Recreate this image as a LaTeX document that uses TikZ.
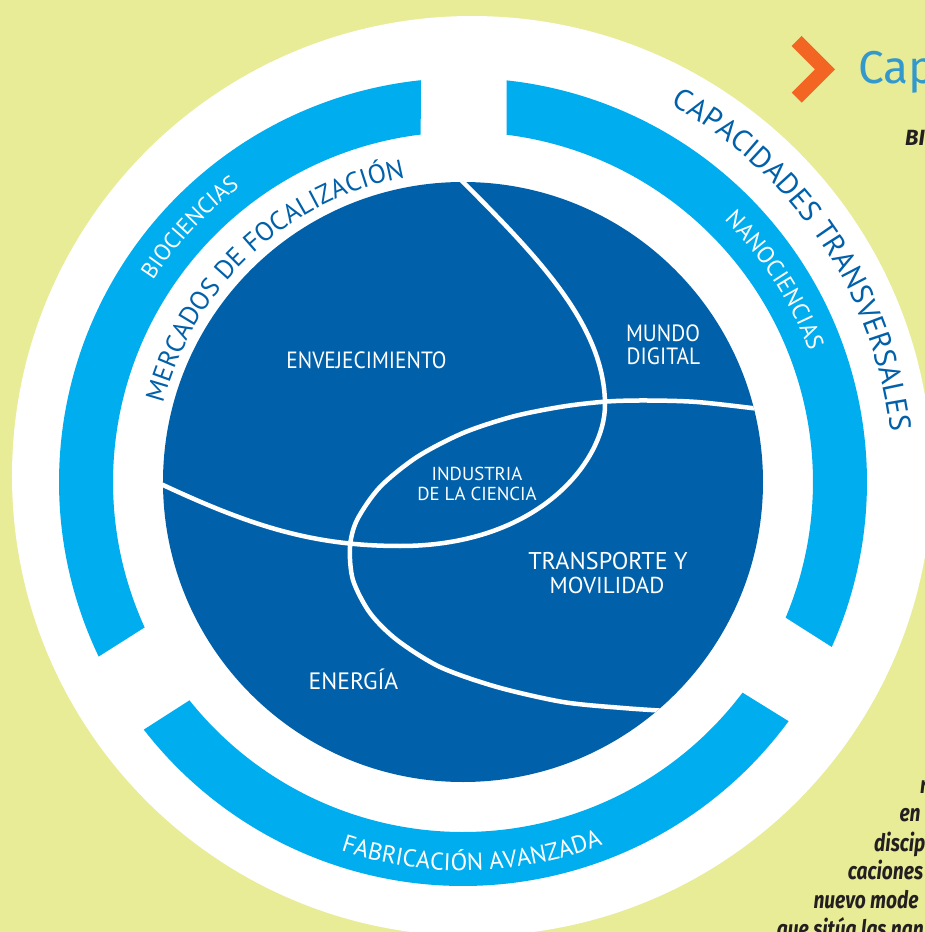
\documentclass[tikz,border=0pt]{standalone}
\usepackage{fontspec}
\usetikzlibrary{decorations.text}
\newfontfamily\lblfont[FakeStretch=0.91]{PT Sans}
\newfontfamily\arcfont{PT Sans}
\newfontfamily\fragfont[FakeStretch=0.8]{Fira Sans}
\newfontfamily\capfont{Fira Sans}
\definecolor{bgyellow}{HTML}{E8EC96}
\definecolor{ringblue}{HTML}{00AEEF}
\definecolor{diskblue}{HTML}{0061AA}
\definecolor{chevorange}{HTML}{F26522}
\definecolor{titleblue}{HTML}{3399CC}
\definecolor{fragtext}{HTML}{231F20}
\begin{document}
\begin{tikzpicture}[x=1pt,y=1pt,
  lbl/.style={text=white, font=\lblfont\fontsize{23.5}{26}\selectfont, inner sep=0pt, anchor=base},
  frag/.style={text=fragtext, font=\fragfont\bfseries\itshape\fontsize{24}{28}\selectfont, inner sep=0pt, anchor=base west},
  sep/.style={draw=white, line width=4.5pt},
  ringseg/.style={fill=ringblue}
]
\useasboundingbox (-463,-450) rectangle (462,482);
\clip (-463,-450) rectangle (462,482);
\fill[bgyellow] (-463,-450) rectangle (462,482);
% white disk
\fill[white] (9,6) circle[radius=460];
% ring segments
\fill[ringseg] (95.97:404) arc[start angle=95.97, end angle=205.6, radius=404]
  -- (204.55:350) arc[start angle=204.55, end angle=96.95, radius=350] -- cycle;
\fill[ringseg] (-24.1:404) arc[start angle=-24.1, end angle=83.8, radius=404]
  -- (82.85:350) arc[start angle=82.85, end angle=-22.8, radius=350] -- cycle;
\fill[ringseg] (217.8:404) arc[start angle=217.8, end angle=323.7, radius=404]
  -- (323.0:350) arc[start angle=323.0, end angle=218.6, radius=350] -- cycle;
% dark disk
\fill[diskblue] (0,0) circle[radius=300];
\begin{scope}
  \clip (0,0) circle[radius=300];
  \begin{scope}[shift={(-463,482)}, yscale=-1]
    \draw[sep] (453,172) -- (463,182) .. controls (540,259) and (605,327) .. (605,405)
      .. controls (605,460) and (540,546) .. (400,546)
      .. controls (313,546) and (251,526) .. (163,485) -- (150,479);
    \draw[sep] plot[smooth] coordinates {(775,411) (760,409) (697,402) (647,400.5) (607,401.5) (563,406.5) (513,416.5) (463,433) (417,457) (380,487) (357,520) (350,547) (353,580) (370,613) (397,640) (440,667) (497,687) (563,702) (623,708) (668,711) (685,711.5)};
  \end{scope}
\end{scope}
% region labels
\node[lbl] (env) at (-96.5,113) {ENVEJECIMIENTO};
\node[lbl] (mundo) at (200,140) {MUNDO};
\node[lbl] (digital) at (200.5,117) {DIGITAL};
\node[lbl, font=\arcfont\fontsize{18.8}{20}\selectfont] (ind1) at (14,2) {INDUSTRIA};
\node[lbl, font=\arcfont\fontsize{18.8}{20}\selectfont] (ind2) at (14,-18) {DE LA CIENCIA};
\node[lbl, font=\arcfont\fontsize{24.2}{26}\selectfont] (tra1) at (145,-87) {TRANSPORTE Y};
\node[lbl, font=\arcfont\fontsize{23}{26}\selectfont] (tra2) at (144,-111) {MOVILIDAD};
\node[lbl, font=\arcfont\fontsize{23.7}{26}\selectfont] (ene) at (-109.5,-207) {ENERGÍA};
% curved labels
\path[decorate, decoration={text along path, text align=center,
  text={|\arcfont\fontsize{26.5}{30}\selectfont\color{diskblue}|MERCADOS DE FOCALIZACIÓN}}]
  (183:310) arc[start angle=183, end angle=83, radius=310];
\path[decorate, decoration={text along path, text align=center,
  text={|\arcfont\fontsize{29.8}{32}\selectfont\color{diskblue}|CAPACIDADES TRANSVERSALES}}]
  (83.9:430.5) arc[start angle=83.9, end angle=-16.1, radius=430.5];
\path[decorate, decoration={text along path, text align=center,
  text={|\arcfont\fontsize{22.9}{25}\selectfont\color{white}|BIOCIENCIAS}}]
  (187:370) arc[start angle=187, end angle=87, radius=370];
\path[decorate, decoration={text along path, text align=center,
  text={|\arcfont\fontsize{23.7}{25}\selectfont\color{white}|NANOCIENCIAS}}]
  (82.9:370) arc[start angle=82.9, end angle=-17.1, radius=370];
\path[decorate, decoration={text along path, text align=center,
  text={|\arcfont\fontsize{24.3}{26}\selectfont\color{white}|FABRICACIÓN AVANZADA}}]
  (221.4:388.5) arc[start angle=221.4, end angle=321.4, radius=388.5];
% title and chevron
\fill[chevorange] (338.7,446) -- (372,412.7) -- (338.7,379.3) -- (328.7,389.3) -- (352,412.7) -- (328.7,436) -- cycle;
\node[text=titleblue, font=\capfont\fontsize{46}{50}\selectfont, inner sep=0pt, anchor=base west] (cap) at (395.3,398.7) {Cap};
\node[text=fragtext, font=\capfont\bfseries\itshape\fontsize{22}{24}\selectfont, inner sep=0pt, anchor=base west] (bi) at (442,336.3) {BI};
% text fragments at right
\node[frag] (f1) at (457,-311) {n};
\node[frag] (f2) at (436.3,-339.7) {en};
\node[frag] (f3) at (411,-369) {discip};
\node[frag] (f4) at (384.7,-397.3) {caciones};
\node[frag] (f5) at (350.3,-426.3) {nuevo mode};
\node[frag] (f6) at (313.7,-455) {que sitúa las nan};
\end{tikzpicture}
\end{document}
